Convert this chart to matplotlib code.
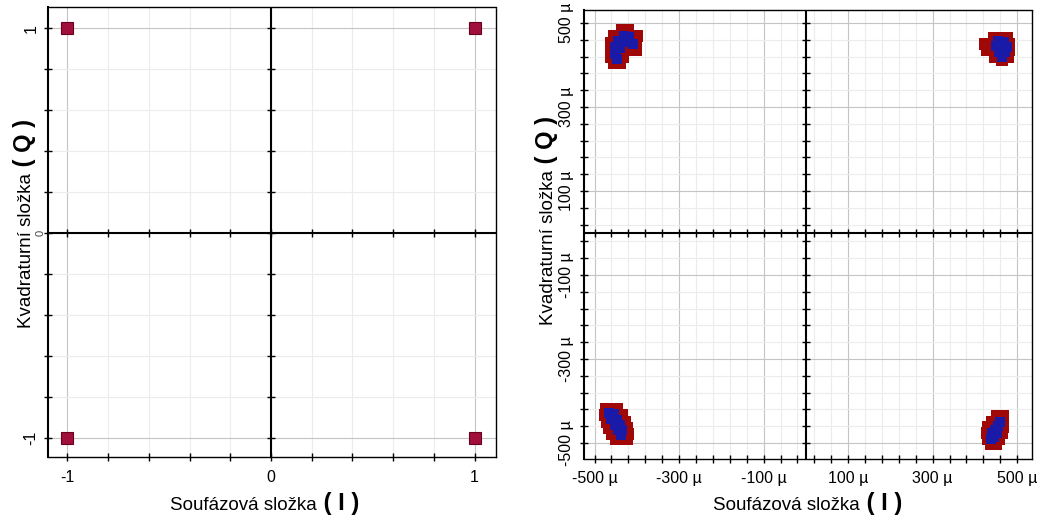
import numpy as np
import matplotlib.pyplot as plt

plt.rcParams['font.family'] = ['Liberation Sans', 'DejaVu Sans']

# ideal QPSK constellation (left graph)
ideal_i = [-1, 1, -1, 1]
ideal_q = [1, 1, -1, -1]

# received symbol clouds (right graph), values in micro units
# each cloud: outer points (drawn red) and core points (drawn blue)
tl_i = [-435, -420, -455, -440, -425, -410, -400, -462, -447, -432, -417, -402,
        -462, -447, -432, -417, -402, -462, -447, -432, -455, -440]
tl_q = [484, 484, 468, 468, 468, 468, 468, 452, 452, 452, 452, 452,
        436, 436, 436, 436, 436, 420, 420, 420, 404, 404]
tl_core_i = [-430, -418, -444, -430, -410, -452, -440, -452, -446]
tl_core_q = [470, 466, 458, 455, 450, 442, 440, 426, 414]

tr_i = [445, 460, 475, 424, 439, 454, 469, 481, 428, 443, 458, 473, 481, 448, 463, 478, 465]
tr_q = [465, 465, 465, 450, 450, 450, 450, 450, 435, 435, 435, 435, 435, 420, 420, 420, 412]
tr_core_i = [455, 468, 450, 463, 475, 458, 470, 465]
tr_core_q = [458, 455, 445, 443, 442, 432, 430, 420]

bl_i = [-474, -460, -446, -476, -462, -448, -434, -470, -456, -442, -428,
        -466, -452, -438, -424, -458, -444, -430, -422, -450, -436, -424]
bl_q = [-419, -419, -419, -434, -434, -434, -434, -449, -449, -449, -449,
        -464, -464, -464, -464, -479, -479, -479, -479, -491, -491, -491]
bl_core_i = [-465, -455, -460, -448, -452, -440, -444, -434, -438]
bl_core_q = [-428, -432, -442, -446, -456, -458, -468, -470, -480]

br_i = [452, 466, 440, 454, 467, 431, 445, 459, 467, 429, 443, 457, 465, 431, 445, 457, 438, 450]
br_q = [-435, -435, -449, -449, -449, -463, -463, -463, -463, -477, -477, -477, -477,
        -491, -491, -491, -503, -503]
br_core_i = [460, 455, 448, 440, 452, 445, 438]
br_core_q = [-450, -460, -468, -476, -475, -486, -490]

clouds = [(tl_i, tl_q, tl_core_i, tl_core_q),
          (tr_i, tr_q, tr_core_i, tr_core_q),
          (bl_i, bl_q, bl_core_i, bl_core_q),
          (br_i, br_q, br_core_i, br_core_q)]

left_major = [-1, 0, 1]
left_minor = np.round(np.arange(-1, 1.01, 0.2), 2)
right_major = [-500, -300, -100, 100, 300, 500]
right_minor = np.arange(-500, 501, 40)

W, H = 1038, 517
fig = plt.figure(figsize=(W / 100, H / 100), dpi=100)
ax1 = fig.add_axes([48 / W, (H - 457) / H, 448 / W, 450 / H])
ax2 = fig.add_axes([584 / W, (H - 459) / H, 448 / W, 449 / H])


def style_axes(ax, major, minor, xlabels, ylabels, lim):
    ax.set_xlim(lim)
    ax.set_ylim(lim)
    ax.set_xticks(major)
    ax.set_yticks(major)
    ax.set_xticks(minor, minor=True)
    ax.set_yticks(minor, minor=True)
    ax.set_xticklabels(xlabels, fontsize=11.5)
    ax.set_yticklabels(ylabels, fontsize=11.5, rotation=90, va='center')
    ax.grid(True, which='major', color='#c4c4c4', lw=0.8, zorder=0)
    ax.grid(True, which='minor', color='#ececec', lw=0.8, zorder=0)
    ax.tick_params(which='both', direction='inout', length=6, width=1, color='k')
    ax.tick_params(axis='x', which='both', pad=6)
    ax.tick_params(axis='y', which='both', pad=4)
    for side in ['top', 'right', 'bottom']:
        ax.spines[side].set_linestyle((0, (1, 1)))
        ax.spines[side].set_linewidth(1)
    ax.spines['left'].set_linewidth(1.5)
    # axes through the origin with their own ticks
    ax.axhline(0, color='k', lw=1.5, zorder=2)
    ax.axvline(0, color='k', lw=1.5, zorder=2)
    ax.plot(minor, np.zeros(len(minor)), ls='none', marker='|', ms=6, mew=1, color='k', zorder=2)
    ax.plot(np.zeros(len(minor)), minor, ls='none', marker='_', ms=6, mew=1, color='k', zorder=2)
    ax.set_axisbelow(True)


style_axes(ax1, left_major, left_minor, ['-1', '0', '1'], ['-1', '', '1'], (-1.095, 1.105))
# the y "0" label sits half hidden next to the axis in the original
ax1.text(-0.006, 0, '0', transform=ax1.get_yaxis_transform(), fontsize=8,
         rotation=90, ha='right', va='center', color='#444444')
ax1.plot(ideal_i, ideal_q, ls='none', marker='s', ms=9, color='#a0103a',
         mec='#6a0020', mew=0.8, zorder=3)

right_labels = ['%d µ' % v for v in right_major]
style_axes(ax2, right_major, right_minor, right_labels, right_labels, (-525, 535))
ax2.set_ylim(-538, 531)
for ci, cq, ki, kq in clouds:
    ax2.plot(ci, cq, ls='none', marker='s', ms=8.5, color='#a00808', mew=0, zorder=3)
    ax2.plot(ki, kq, ls='none', marker='s', ms=6.5, color='#1a1aa8', mew=0, zorder=4)


def split_label(x, y, plain, bold, rotation=0):
    kw = dict(rotation=rotation, rotation_mode='anchor', va='baseline')
    fig.text(x, y, plain, ha='right', fontsize=13.5, **kw)
    fig.text(x, y, ' ( %s )' % bold, ha='left', fontsize=17, fontweight='bold', **kw)


split_label(317 / W, (H - 510) / H, 'Soufázová složka', 'I')
split_label(860 / W, (H - 510) / H, 'Soufázová složka', 'I')
split_label(31 / W, (H - 173) / H, 'Kvadraturní složka', 'Q', rotation=90)
split_label(553 / W, (H - 170) / H, 'Kvadraturní složka', 'Q', rotation=90)

fig.savefig('out.png', dpi=100)
